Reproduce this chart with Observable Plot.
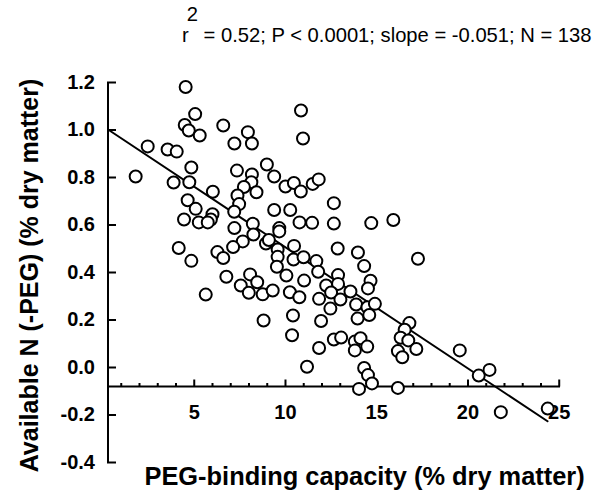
<!DOCTYPE html>
<html><head><meta charset="utf-8">
<script src="https://cdn.jsdelivr.net/npm/d3@7"></script>
<script src="https://cdn.jsdelivr.net/npm/@observablehq/plot@0.6"></script>
<style>
body{margin:0;background:#fff;}
#wrap{position:relative;width:606px;height:490px;overflow:hidden;}
#title{position:absolute;left:182px;top:25px;font:20.2px "Liberation Sans",Arial,sans-serif;line-height:21px;white-space:nowrap;color:#000;}
#title .sup{position:relative;top:-21px;margin-left:-2px;}
</style></head><body>
<div id="wrap"><div id="chart"></div><div id="title">r<span class="sup">2</span> = 0.52; P &lt; 0.0001; slope = -0.051; N = 138</div></div>
<script>
// PEG-binding capacity (% dry matter)
const peg = [1.79,2.45,3.54,4.04,3.87,4.53,5.05,4.48,4.70,5.30,6.59,7.94,7.20,8.16,4.84,4.73,7.34,8.16,8.13,7.72,
8.41,6.02,7.37,7.46,4.64,5.08,7.19,6.00,5.91,4.44,5.25,5.74,7.20,8.21,8.24,7.66,8.98,9.38,10.0,10.46,
10.84,11.49,11.82,9.38,10.26,10.77,11.46,9.66,9.66,8.93,9.09,9.57,10.47,10.44,10.99,11.69,10.85,10.96,12.65,12.65,
14.70,15.91,4.15,4.84,6.27,7.13,5.63,6.59,6.76,7.55,8.06,7.99,8.45,8.75,9.30,8.80,9.57,9.53,10.05,10.24,
10.76,11.02,10.41,10.36,11.18,11.79,11.84,11.95,11.84,12.86,12.88,12.88,12.23,12.50,12.46,13.01,13.56,12.65,13.05,13.97,
14.31,14.66,14.52,13.87,13.95,14.49,14.59,14.90,13.80,14.11,13.80,14.48,14.31,14.52,14.74,14.03,16.16,16.79,16.53,16.31,
16.73,17.17,16.16,16.40,17.26,19.55,20.59,21.18,21.80,24.37];
// Available N (-PEG) (% dry matter)
const availN = [0.804,0.931,0.918,0.909,0.779,1.181,1.067,1.021,0.998,0.977,1.019,0.991,0.943,0.943,0.842,0.780,0.829,0.813,0.780,0.760,
0.738,0.740,0.724,0.688,0.704,0.668,0.656,0.645,0.623,0.623,0.611,0.611,0.587,0.605,0.560,0.531,0.855,0.804,0.762,0.777,
0.741,0.773,0.792,0.663,0.663,0.611,0.609,0.587,0.573,0.522,0.537,0.497,0.512,0.455,0.464,0.448,1.082,0.964,0.692,0.606,
0.608,0.621,0.503,0.449,0.486,0.507,0.307,0.461,0.382,0.345,0.392,0.315,0.359,0.308,0.324,0.198,0.466,0.424,0.387,0.317,
0.296,0.366,0.219,0.136,0.003,0.403,0.289,0.196,0.082,0.501,0.389,0.352,0.345,0.316,0.248,0.286,0.320,0.118,0.126,0.484,
0.427,0.365,0.333,0.265,0.206,0.254,0.221,0.268,0.109,0.123,0.072,0.088,-0.002,-0.032,-0.067,-0.090,-0.086,0.187,0.159,0.125,
0.114,0.078,0.069,0.043,0.458,0.072,-0.034,-0.010,-0.188,-0.173];

const yTicks = [-0.4,-0.2,0,0.2,0.4,0.6,0.8,1.0,1.2];
const yTickLabels = ["-0.4","-0.2","0.0","0.2","0.4","0.6","0.8","1.0","1.2"];
const xMajorTicks = [5,10,15,20,25];
const xMajorLabels = ["5","10","15","20","25"];
const xMinorTicks = [1,2,3,4,6,7,8,9,11,12,13,14,16,17,18,19,21,22,23,24];
const fitSlope = -0.051, fitIntercept = 1.016, fitXRange = [0.274, 24.36];
const xAxisAtY = -0.08, yAxisAtX = 0.274;
const xDomain = [0.274, 25.07], yDomain = [-0.4, 1.2];
const xLabel = "PEG-binding capacity (% dry matter)";
const yLabel = "Available N (-PEG) (% dry matter)";

const pts = peg.map((x, i) => ({x, y: availN[i]}));
const fit = fitXRange.map(x => ({x, y: fitIntercept + fitSlope * x}));
const tickShape = {draw(ctx, l) { ctx.moveTo(0, 0); ctx.lineTo(0, -l); }};
const font = "'Liberation Sans', Arial, sans-serif";

const chart = Plot.plot({
  width: 606, height: 490,
  marginLeft: 107.5, marginRight: 46, marginTop: 82, marginBottom: 28,
  style: {fontFamily: font, background: "#fff", color: "#000"},
  x: {domain: xDomain, axis: null},
  y: {domain: yDomain, axis: null},
  marks: [
    Plot.ruleX([yAxisAtX], {x: d => d, y1: yDomain[0], y2: yDomain[1], stroke: "#000", strokeWidth: 2}),
    Plot.ruleY([xAxisAtY], {y: d => d, x1: xDomain[0], x2: xDomain[1], stroke: "#000", strokeWidth: 2}),
    Plot.vector(yTicks, {x: yAxisAtX, y: d => d, length: 7, rotate: 90, anchor: "start", shape: tickShape, stroke: "#000", strokeWidth: 2, strokeLinecap: "square"}),
    Plot.vector(xMajorTicks, {x: d => d, y: xAxisAtY, length: 7, rotate: 0, anchor: "start", shape: tickShape, stroke: "#000", strokeWidth: 2, strokeLinecap: "butt"}),
    Plot.vector(xMinorTicks, {x: d => d, y: xAxisAtY, length: 3.5, rotate: 0, anchor: "start", shape: tickShape, stroke: "#000", strokeWidth: 2, strokeLinecap: "butt"}),
    Plot.text(yTicks, {x: yAxisAtX, y: d => d, text: (d, i) => yTickLabels[i], dx: -13, textAnchor: "end", lineAnchor: "middle", fontSize: 20, fontWeight: "bold", fill: "#000"}),
    Plot.text(xMajorTicks, {x: d => d, y: xAxisAtY, text: (d, i) => xMajorLabels[i], dy: 26, textAnchor: "middle", lineAnchor: "middle", fontSize: 20, fontWeight: "bold", fill: "#000"}),
    Plot.line(fit, {x: "x", y: "y", stroke: "#000", strokeWidth: 2}),
    Plot.dot(pts, {x: "x", y: "y", r: 6, stroke: "#000", fill: "#fff", strokeWidth: 2}),
    Plot.text([xLabel], {frameAnchor: "bottom-left", text: d => d, dx: 36.5, dy: 22, textAnchor: "start", lineAnchor: "bottom", fontSize: 25.4, fontWeight: "bold", fill: "#000"}),
    Plot.text([yLabel], {frameAnchor: "left", text: d => d, rotate: -90, dx: -78.5, dy: 3, textAnchor: "middle", lineAnchor: "middle", fontSize: 25, fontWeight: "bold", fill: "#000"})
  ]
});
document.getElementById("chart").appendChild(chart);
</script>
</body></html>
